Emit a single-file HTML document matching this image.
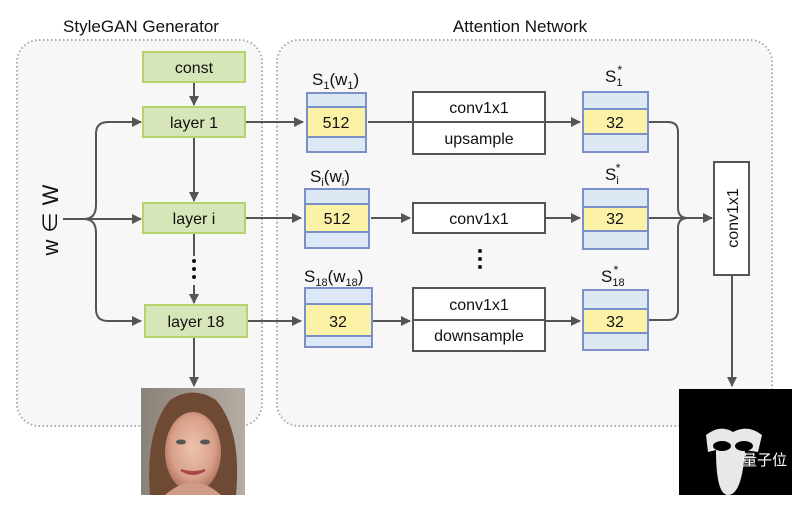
<!DOCTYPE html>
<html><head><meta charset="utf-8"><style>
body{margin:0;background:#fff;}
svg text{font-family:"Liberation Sans","Noto Sans CJK SC",sans-serif;fill:#111;}
</style></head><body>
<svg width="792" height="500" viewBox="0 0 792 500" xmlns="http://www.w3.org/2000/svg">
<defs>
<marker id="a" markerWidth="10" markerHeight="10" refX="9" refY="5" orient="auto" markerUnits="userSpaceOnUse"><path d="M0,0 L10,5 L0,10 z" fill="#555"/></marker>
<radialGradient id="skin" cx="50%" cy="45%" r="55%"><stop offset="0" stop-color="#edc3ae"/><stop offset="0.7" stop-color="#d9a08a"/><stop offset="1" stop-color="#b07562"/></radialGradient>
<linearGradient id="bg" x1="0" x2="1"><stop offset="0" stop-color="#8a8178"/><stop offset="1" stop-color="#b5aca3"/></linearGradient>
</defs>
<rect x="17" y="40" width="245" height="386" rx="22" fill="#f7f7f7" stroke="#aaa" stroke-width="2" stroke-dasharray="1.5,2.5"/>
<rect x="277" y="40" width="495" height="386" rx="22" fill="#f7f7f7" stroke="#aaa" stroke-width="2" stroke-dasharray="1.5,2.5"/>
<text x="141" y="32" font-size="17" text-anchor="middle">StyleGAN Generator</text>
<text x="520" y="32" font-size="17" text-anchor="middle">Attention Network</text>
<g stroke="#555" stroke-width="2" fill="none">
<path d="M194 82 V105" marker-end="url(#a)"/>
<path d="M194 137 V201" marker-end="url(#a)"/>
<path d="M194 233 V256"/>
<path d="M194 285 V303" marker-end="url(#a)"/>
<path d="M194 337 V386" marker-end="url(#a)"/>
<path d="M63 219 H141" marker-end="url(#a)"/>
<path d="M84 219 Q96 219 96 205 V134 Q96 122 108 122 H141" marker-end="url(#a)"/>
<path d="M84 219 Q96 219 96 233 V309 Q96 321 108 321 H141" marker-end="url(#a)"/>
<path d="M245 122 H303" marker-end="url(#a)"/>
<path d="M245 218 H301" marker-end="url(#a)"/>
<path d="M247 321 H301" marker-end="url(#a)"/>
<path d="M368 122 H580" marker-end="url(#a)"/>
<path d="M371 218 H410" marker-end="url(#a)"/>
<path d="M545 218 H580" marker-end="url(#a)"/>
<path d="M373 321 H410" marker-end="url(#a)"/>
<path d="M545 321 H580" marker-end="url(#a)"/>
<path d="M647 122 H668 Q678 122 678 132 V208 Q678 218 688 218"/>
<path d="M647 320 H668 Q678 320 678 310 V228 Q678 218 688 218"/>
<path d="M647 218 H712" marker-end="url(#a)"/>
<path d="M732 275 V386" marker-end="url(#a)"/>
</g>
<g fill="#111"><circle cx="194" cy="261" r="2"/><circle cx="194" cy="269" r="2"/><circle cx="194" cy="277" r="2"/>
<circle cx="480" cy="251" r="2"/><circle cx="480" cy="259" r="2"/><circle cx="480" cy="267" r="2"/></g>
<g fill="#d6e6b8" stroke="#b4d46a" stroke-width="2">
<rect x="143" y="52" width="102" height="30"/><rect x="143" y="107" width="102" height="30"/>
<rect x="143" y="203" width="102" height="30"/><rect x="145" y="305" width="102" height="32"/></g>
<g font-size="16" text-anchor="middle">
<text x="194" y="73">const</text><text x="194" y="128">layer 1</text><text x="194" y="224">layer i</text><text x="196" y="327">layer 18</text></g>
<text transform="translate(58,220) rotate(-90)" font-size="22" text-anchor="middle" font-family="Liberation Serif">w ∈ W</text>
<g stroke="#7b90c8" stroke-width="2">
<rect x="307" y="93" width="59" height="59" fill="#dce8f3"/><rect x="307" y="107" width="59" height="30" fill="#fbf2a8"/>
<rect x="305" y="189" width="64" height="59" fill="#dce8f3"/><rect x="305" y="204" width="64" height="28" fill="#fbf2a8"/>
<rect x="305" y="288" width="67" height="59" fill="#dce8f3"/><rect x="305" y="304" width="67" height="32" fill="#fbf2a8"/>
<rect x="583" y="92" width="65" height="60" fill="#dce8f3"/><rect x="583" y="109" width="65" height="25" fill="#fbf2a8"/>
<rect x="583" y="189" width="65" height="60" fill="#dce8f3"/><rect x="583" y="207" width="65" height="24" fill="#fbf2a8"/>
<rect x="583" y="290" width="65" height="60" fill="#dce8f3"/><rect x="583" y="309" width="65" height="24" fill="#fbf2a8"/></g>
<g font-size="16" text-anchor="middle">
<text x="336" y="128">512</text><text x="337" y="224">512</text><text x="338" y="327">32</text>
<text x="615" y="128">32</text><text x="615" y="224">32</text><text x="615" y="327">32</text></g>
<g font-size="17">
<text x="312" y="85">S<tspan font-size="11" dy="4">1</tspan><tspan dy="-4">(w</tspan><tspan font-size="11" dy="4">1</tspan><tspan dy="-4">)</tspan></text>
<text x="310" y="182">S<tspan font-size="11" dy="4">i</tspan><tspan dy="-4">(w</tspan><tspan font-size="11" dy="4">i</tspan><tspan dy="-4">)</tspan></text>
<text x="304" y="282">S<tspan font-size="11" dy="4">18</tspan><tspan dy="-4">(w</tspan><tspan font-size="11" dy="4">18</tspan><tspan dy="-4">)</tspan></text>
<text x="605" y="82">S<tspan font-size="11" dy="4">1</tspan><tspan font-size="12" dy="-12" dx="-5">*</tspan></text>
<text x="605" y="180">S<tspan font-size="11" dy="4">i</tspan><tspan font-size="12" dy="-12" dx="-3">*</tspan></text>
<text x="601" y="282">S<tspan font-size="11" dy="4">18</tspan><tspan font-size="12" dy="-12" dx="-11">*</tspan></text></g>
<g fill="#fff" stroke="#555" stroke-width="2">
<rect x="413" y="92" width="132" height="62"/><rect x="413" y="203" width="132" height="30"/>
<rect x="413" y="288" width="132" height="63"/><rect x="714" y="162" width="35" height="113"/></g>
<g stroke="#555" stroke-width="2"><path d="M413 122 H545"/><path d="M413 320 H545"/></g>
<g font-size="16" text-anchor="middle">
<text x="479" y="113">conv1x1</text><text x="479" y="144">upsample</text>
<text x="479" y="224">conv1x1</text>
<text x="479" y="310">conv1x1</text><text x="479" y="341">downsample</text></g>
<text transform="translate(738,218) rotate(-90)" font-size="16" text-anchor="middle">conv1x1</text>
<rect x="141" y="388" width="104" height="107" fill="url(#bg)"/>
<path d="M150 495 Q145 430 170 400 Q193 385 216 400 Q242 430 236 495 Z" fill="#6e4a34"/>
<ellipse cx="193" cy="452" rx="28" ry="40" fill="url(#skin)"/>
<path d="M165 495 Q193 470 221 495 Z" fill="#cf9a86"/>
<ellipse cx="181" cy="442" rx="5" ry="2.5" fill="#555"/><ellipse cx="205" cy="442" rx="5" ry="2.5" fill="#555"/>
<path d="M181 470 Q193 478 205 470 Q193 474 181 470" fill="#a8464a" stroke="#a8464a" stroke-width="2"/>
<rect x="679" y="389" width="113" height="106" fill="#000"/>
<path d="M706 435 Q720 424 733 432 Q748 424 762 435 L758 452 L745 450 Q742 495 728 495 Q716 495 716 450 L708 452 Z" fill="#e8e8e8"/>
<ellipse cx="722" cy="446" rx="9" ry="5" fill="#000"/><ellipse cx="744" cy="446" rx="9" ry="5" fill="#000"/>
<text x="742" y="465" font-size="15" style="fill:#fff">量子位</text>
</svg>
</body></html>
